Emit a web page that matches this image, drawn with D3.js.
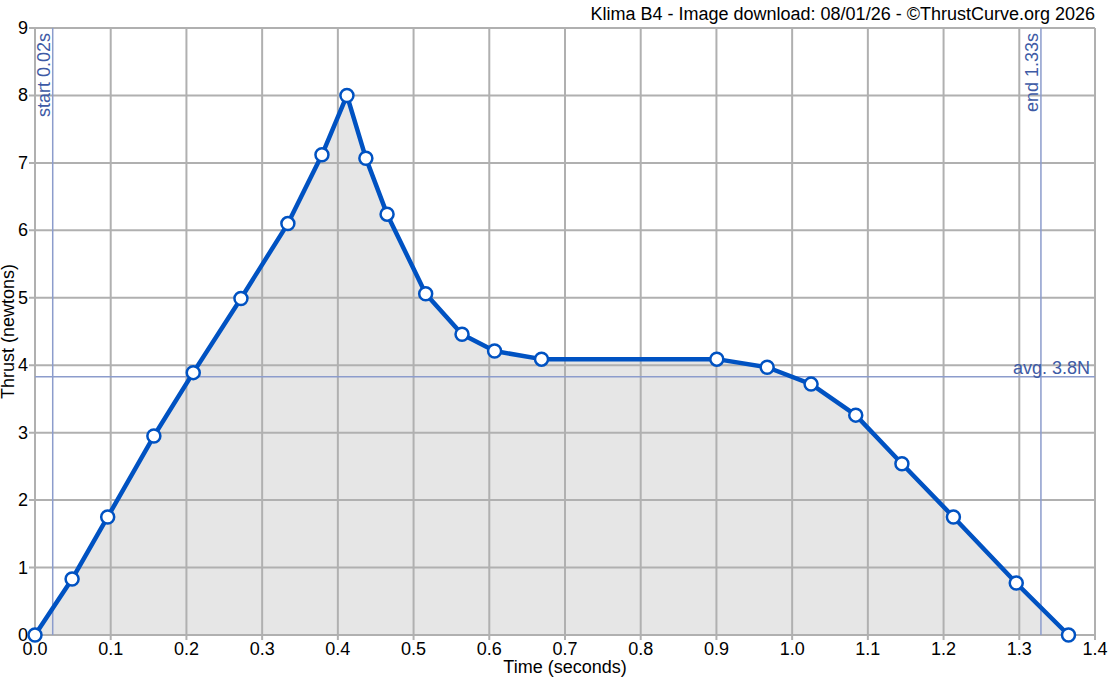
<!DOCTYPE html>
<html>
<head>
<meta charset="utf-8">
<script src="https://cdn.jsdelivr.net/npm/d3@7"></script>
<style>
  body { margin: 0; background: #fff; }
  svg { font-family: "Liberation Sans", Arial, sans-serif; }
</style>
</head>
<body>
<div id="chart"></div>
<script>
// thrust curve samples
const times  = [0, 0.049, 0.096, 0.157, 0.209, 0.272, 0.334, 0.379, 0.412, 0.437, 0.465, 0.516, 0.564, 0.607, 0.669, 0.9005, 0.967, 1.025, 1.084, 1.145, 1.213, 1.296, 1.365];
const thrust = [0, 0.83, 1.75, 2.95, 3.89, 4.99, 6.10, 7.12, 8.0, 7.07, 6.24, 5.06, 4.46, 4.21, 4.09, 4.09, 3.97, 3.72, 3.26, 2.54, 1.75, 0.77, 0];
const xTicks = [0, 0.1, 0.2, 0.3, 0.4, 0.5, 0.6, 0.7, 0.8, 0.9, 1.0, 1.1, 1.2, 1.3, 1.4];
const yTicks = [0, 1, 2, 3, 4, 5, 6, 7, 8, 9];
const burnStart = 0.0234, burnEnd = 1.3286, avgThrust = 3.83;

const width = 1120, height = 683,
      margin = ({ top: 28, right: 25, bottom: 48, left: 35 });

const data = times.map((t, i) => ({ t: t, f: thrust[i] }));

let svg = d3.select("#chart")
    .append("svg")
    .attr("width", width)
    .attr("height", height);

let x = d3.scaleLinear()
    .domain([0, 1.4])
    .range([margin.left, width - margin.right]);

let y = d3.scaleLinear()
    .domain([0, 9])
    .range([height - margin.bottom, margin.top]);

// filled area under the curve
svg.append("path")
    .datum(data)
    .attr("fill", "#e6e6e6")
    .attr("d", d3.area().x(d => x(d.t)).y0(y(0)).y1(d => y(d.f)));

// grid
svg.append("g")
    .selectAll("line")
    .data(xTicks)
    .join("line")
    .attr("x1", d => x(d)).attr("x2", d => x(d))
    .attr("y1", margin.top).attr("y2", y(0) + 5)
    .attr("stroke", "#b0b0b0").attr("stroke-width", 2);

svg.append("g")
    .selectAll("line")
    .data(yTicks)
    .join("line")
    .attr("x1", margin.left - 6).attr("x2", width - margin.right)
    .attr("y1", d => y(d)).attr("y2", d => y(d))
    .attr("stroke", "#b0b0b0").attr("stroke-width", 2);

// tick labels
svg.append("g")
    .selectAll("text")
    .data(xTicks)
    .join("text")
    .attr("x", d => x(d))
    .attr("y", y(0) + 20)
    .attr("text-anchor", "middle")
    .style("font-size", "18px")
    .text(d => d.toFixed(1));

svg.append("g")
    .selectAll("text")
    .data(yTicks)
    .join("text")
    .attr("x", margin.left - 7)
    .attr("y", d => y(d) + 6)
    .attr("text-anchor", "end")
    .style("font-size", "18px")
    .text(d => d);

// start / end / average markers
const refColor = "#8c9ccc", refText = "#3d5aa5";

svg.append("line")
    .attr("x1", x(burnStart)).attr("x2", x(burnStart))
    .attr("y1", margin.top).attr("y2", y(0))
    .attr("stroke", refColor).attr("stroke-width", 1.5);

svg.append("line")
    .attr("x1", x(burnEnd)).attr("x2", x(burnEnd))
    .attr("y1", margin.top).attr("y2", y(0))
    .attr("stroke", refColor).attr("stroke-width", 1.5);

svg.append("line")
    .attr("x1", margin.left).attr("x2", width - margin.right)
    .attr("y1", y(avgThrust)).attr("y2", y(avgThrust))
    .attr("stroke", refColor).attr("stroke-width", 1.5);

svg.append("text")
    .attr("transform", `translate(${x(burnStart) - 3},${margin.top + 5}) rotate(-90)`)
    .attr("text-anchor", "end")
    .style("font-size", "18px")
    .style("fill", refText)
    .text("start 0.02s");

svg.append("text")
    .attr("transform", `translate(${x(burnEnd) - 3},${margin.top + 5}) rotate(-90)`)
    .attr("text-anchor", "end")
    .style("font-size", "18px")
    .style("fill", refText)
    .text("end 1.33s");

svg.append("text")
    .attr("x", width - margin.right - 5)
    .attr("y", y(avgThrust) - 3)
    .attr("text-anchor", "end")
    .style("font-size", "18px")
    .style("fill", refText)
    .text("avg. 3.8N");

// thrust line and points
svg.append("path")
    .datum(data)
    .attr("fill", "none")
    .attr("stroke", "#0052c2")
    .attr("stroke-width", 4.5)
    .attr("stroke-linejoin", "round")
    .attr("d", d3.line().x(d => x(d.t)).y(d => y(d.f)));

svg.append("g")
    .selectAll("circle")
    .data(data)
    .join("circle")
    .attr("cx", d => x(d.t))
    .attr("cy", d => y(d.f))
    .attr("r", 6.5)
    .attr("fill", "#fff")
    .attr("stroke", "#0052c2")
    .attr("stroke-width", 2.5);

// axis labels and title
svg.append("text")
    .attr("x", (margin.left + width - margin.right) / 2)
    .attr("y", height - 10)
    .attr("text-anchor", "middle")
    .style("font-size", "18px")
    .text("Time (seconds)");

svg.append("text")
    .attr("transform", `translate(14,${(margin.top + y(0)) / 2}) rotate(-90)`)
    .attr("text-anchor", "middle")
    .style("font-size", "18px")
    .text("Thrust (newtons)");

svg.append("text")
    .attr("x", width - margin.right)
    .attr("y", 20)
    .attr("text-anchor", "end")
    .style("font-size", "18px")
    .text("Klima B4 - Image download: 08/01/26 - ©ThrustCurve.org 2026");
</script>
</body>
</html>
